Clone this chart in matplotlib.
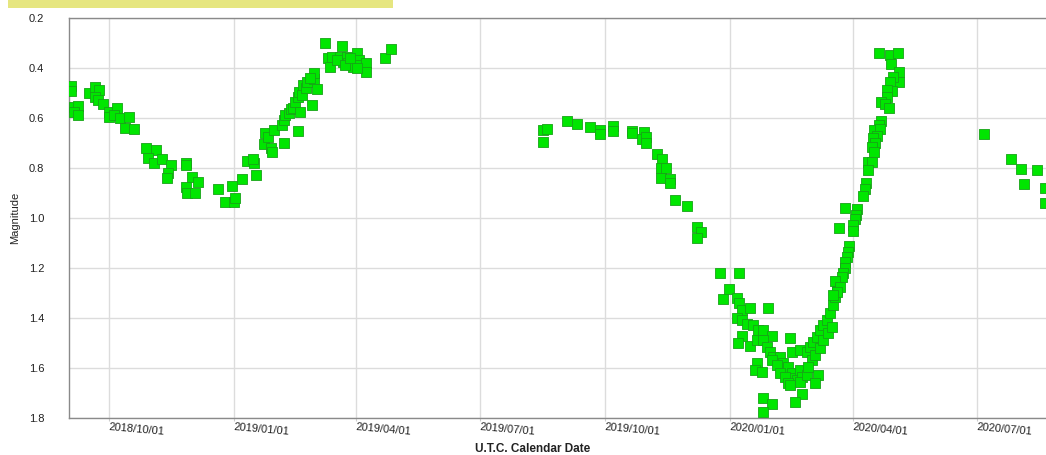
import numpy as np
import matplotlib
matplotlib.use("Agg")
import matplotlib.pyplot as plt
from matplotlib.patches import Rectangle

plt.rcParams['font.family'] = ['Liberation Sans', 'DejaVu Sans']

# ---- data: observation day offset from 2018-10-01, and visual magnitude ----
epoch = np.datetime64('2018-10-01')
obs_day = [
    -28, -28, -25.5, -23.0, -25.5, -23.0, -14.9, -10.0, -7.1, -10.0, -7.6, -4.6, -0.2, -0.2,
    6.0, 3.5, 8.4, 15.0, 12.1, 18.2, 27.3, 34.7, 29.2, 32.9, 39.1, 45.9, 43.9, 43.2,
    57.0, 57.0, 61.2, 65.3, 57.0, 57.5, 63.6, 80.7, 91.0, 85.7, 91.8, 93.0, 98.0,
    101.9, 107.0, 108.5, 106.5, 114.6, 119.5, 120.0, 115.1, 117.5, 121.7, 128.6, 127.4,
    128.6, 129.8, 132.3, 134.0, 135.9, 137.2, 139.6, 140.1, 142.1, 140.9, 139.6,
    143.3, 145.3, 145.8, 149.5, 150.7, 151.4, 153.2, 148.2,
    159.3, 171.6, 161.7, 164.2, 163.0, 170.3, 172.7, 175.2, 176.4, 180.1, 182.6, 183.8,
    183.8, 189.2, 189.2, 167.9, 174.0, 177.7, 182.6, 203.4, 207.6,
    319.5, 322.9, 319.5, 337.2, 344.5, 354.3, 361.7, 361.7, 371.0, 371.0, 385.4, 385.4,
    394.1, 392.4, 395.5, 395.5, 403.8, 407.1, 406.3, 410.2, 406.6, 413.2, 413.2, 416.9,
    425.9, 432.8, 435.8, 433.3, 450.0, 464.0, 456.8, 452.4, 462.3, 464.1, 466.0, 471.7,
    485.5, 462.5, 466.0, 469.6, 474.5, 478.2, 481.9, 488.0, 501.5, 466.0, 463.2, 472.1,
    477.0, 481.9, 484.4, 486.8, 489.2, 494.1, 496.6, 500.3, 502.8, 503.9, 506.4, 477.0,
    475.8, 480.7, 488.0, 491.7, 494.1, 497.8, 500.3, 501.5, 508.9, 510.1, 508.9, 513.8,
    522.3, 519.9, 510.1, 505.2, 502.8, 508.9, 513.8, 516.2, 518.7, 521.2, 523.6, 526.0,
    528.5, 531.0, 533.4, 534.6, 535.9, 537.1, 517.5, 515.0, 519.9, 523.6, 526.0, 529.7,
    532.2, 481.9, 488.0, 481.4,
    567.2, 575.1, 580.8, 575.6, 581.7, 581.7, 577.5, 575.1, 576.4, 573.1, 573.1, 568.5,
    571.4, 574.6, 568.5, 567.2, 563.3, 567.8, 565.3, 562.4, 564.1, 561.6, 563.3, 559.1,
    561.6, 559.1, 557.2, 556.7, 555.5, 542.0, 551.0, 550.1, 549.4, 548.1, 548.1, 537.8,
    545.2, 544.4, 543.2, 542.0, 542.0, 540.3, 539.6, 534.6, 538.3, 535.9, 532.9,
    644.5, 664.2, 671.3, 683.1, 673.7, 689.2, 689.2,
]
mag = [
    0.471, 0.491, 0.554, 0.551, 0.574, 0.587, 0.500, 0.476, 0.487, 0.514, 0.527, 0.543, 0.574, 0.594,
    0.560, 0.587, 0.600, 0.596, 0.640, 0.643, 0.720, 0.727, 0.760, 0.780, 0.764, 0.787, 0.820, 0.840,
    0.778, 0.787, 0.834, 0.854, 0.874, 0.898, 0.898, 0.883, 0.871, 0.936, 0.936, 0.919, 0.844,
    0.771, 0.778, 0.827, 0.764, 0.704, 0.720, 0.735, 0.660, 0.675, 0.647, 0.700, 0.627,
    0.607, 0.587, 0.580, 0.563, 0.560, 0.534, 0.514, 0.494, 0.507, 0.574, 0.651,
    0.467, 0.480, 0.454, 0.547, 0.444, 0.418, 0.484, 0.440,
    0.300, 0.311, 0.360, 0.354, 0.394, 0.354, 0.374, 0.354, 0.380, 0.394, 0.340, 0.367,
    0.387, 0.380, 0.414, 0.367, 0.387, 0.360, 0.400, 0.358, 0.324,
    0.647, 0.643, 0.694, 0.610, 0.624, 0.634, 0.647, 0.663, 0.631, 0.650, 0.650, 0.660,
    0.654, 0.684, 0.676, 0.698, 0.744, 0.764, 0.798, 0.798, 0.840, 0.844, 0.860, 0.927,
    0.951, 1.036, 1.054, 1.080, 1.218, 1.218, 1.282, 1.324, 1.317, 1.337, 1.367, 1.357,
    1.360, 1.397, 1.408, 1.423, 1.425, 1.447, 1.447, 1.471, 1.480, 1.469, 1.500, 1.509,
    1.487, 1.487, 1.514, 1.534, 1.554, 1.554, 1.580, 1.594, 1.620, 1.640, 1.647, 1.580,
    1.607, 1.614, 1.567, 1.587, 1.620, 1.634, 1.660, 1.667, 1.607, 1.634, 1.654, 1.627,
    1.627, 1.660, 1.703, 1.734, 1.534, 1.527, 1.534, 1.514, 1.494, 1.474, 1.447, 1.427,
    1.407, 1.380, 1.347, 1.314, 1.287, 1.254, 1.567, 1.594, 1.547, 1.520, 1.487, 1.460,
    1.434, 1.720, 1.744, 1.774,
    0.340, 0.347, 0.338, 0.384, 0.414, 0.456, 0.434, 0.454, 0.490, 0.487, 0.514, 0.536,
    0.543, 0.560, 0.610, 0.627, 0.647, 0.644, 0.671, 0.680, 0.700, 0.714, 0.734, 0.774,
    0.774, 0.807, 0.860, 0.884, 0.911, 0.960, 0.963, 0.987, 1.004, 1.027, 1.050, 1.040,
    1.111, 1.134, 1.154, 1.174, 1.200, 1.220, 1.234, 1.250, 1.274, 1.294, 1.307,
    0.664, 0.764, 0.804, 0.807, 0.863, 0.878, 0.938,
]
tick_dates = ['2018-10-01', '2019-01-01', '2019-04-01', '2019-07-01',
              '2019-10-01', '2020-01-01', '2020-04-01', '2020-07-01']
y_ticks = [0.2, 0.4, 0.6, 0.8, 1.0, 1.2, 1.4, 1.6, 1.8]

dates = epoch + (np.array(obs_day) * 86400).astype('timedelta64[s]')
dates = dates.astype('datetime64[s]').astype(object)

W, H = 1046, 455
fig = plt.figure(figsize=(W / 100, H / 100), dpi=100)
fig.patch.set_facecolor('white')

ax = fig.add_axes([69.3 / W, (H - 418.3) / H, (W - 69.3) / W, 400 / H])
ax.scatter(dates, mag, marker='s', s=42, facecolor='#00e600',
           edgecolor='#17a317', linewidths=0.6, zorder=3, clip_on=True)

x0 = (epoch + np.timedelta64(int(-29.1 * 24), 'h')).astype('datetime64[s]').astype(object)
x1 = (epoch + np.timedelta64(int(689.9 * 24), 'h')).astype('datetime64[s]').astype(object)
ax.set_xlim(x0, x1)
ax.set_ylim(1.8, 0.2)

ax.set_yticks(y_ticks)
ax.set_yticklabels([f'{v:.1f}' for v in y_ticks])
ax.set_xticks([np.datetime64(d).astype('datetime64[s]').astype(object) for d in tick_dates])
ax.set_xticklabels([d.replace('-', '/') for d in tick_dates], rotation=-5,
                   ha='left', va='top', rotation_mode='anchor')

ax.grid(True, color='#dcdcdc', linewidth=1.0, zorder=0)
ax.set_axisbelow(True)
ax.tick_params(axis='y', length=0, pad=18, labelsize=8, labelcolor='#222222')
ax.tick_params(axis='x', length=2, color='#cccccc', pad=1, labelsize=8, labelcolor='#222222')

for s in ['left', 'bottom', 'top']:
    ax.spines[s].set_color('#8a8a8a')
    ax.spines[s].set_linewidth(1.0)
ax.spines['right'].set_visible(False)

fig.text(15 / W, (H - 218) / H, 'Magnitude', rotation=90, ha='center', va='center',
         fontsize=8, color='#222222')
fig.text(533 / W, (H - 449) / H, 'U.T.C. Calendar Date', ha='center', va='center',
         fontsize=8.5, fontweight='bold', color='#222222')

fig.patches.append(Rectangle((8 / W, (H - 7.5) / H), 385 / W, 7.5 / H,
                             transform=fig.transFigure, facecolor='#e6e680',
                             edgecolor='none', zorder=0))

fig.savefig('out.png', dpi=100)
